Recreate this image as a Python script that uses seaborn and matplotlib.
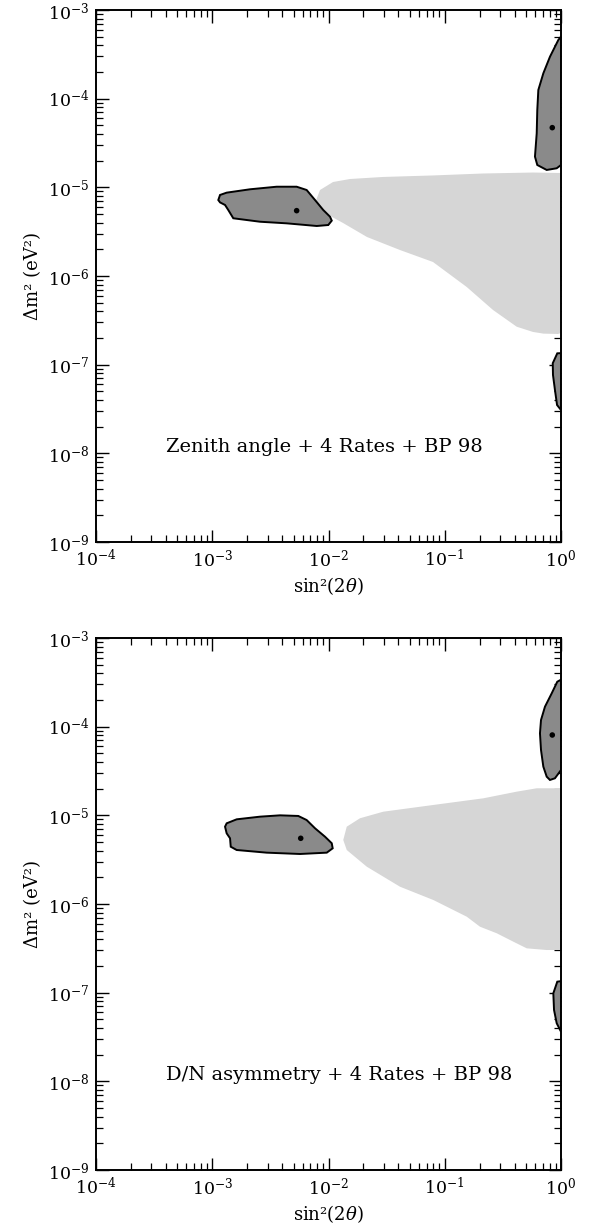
#!/usr/bin/env python
#
# Two-panel sin^2(2theta) vs dm^2 allowed-region plot

import numpy as np
import pandas as pd
import seaborn as sns
from matplotlib import pyplot as plt
from matplotlib.ticker import LogLocator

# --- data (log10 values) ---
# top panel: Zenith angle + 4 Rates + BP 98
top_sma_lx = [-2.948, -2.933, -2.876, -2.675, -2.446, -2.274, -2.188, -2.116, -2.045, -1.987,
              -1.972, -2.002, -2.101, -2.360, -2.589, -2.819, -2.862, -2.890, -2.933]
top_sma_ly = [-5.143, -5.086, -5.060, -5.022, -4.993, -4.993, -5.030, -5.143, -5.256, -5.331,
              -5.376, -5.425, -5.436, -5.406, -5.388, -5.349, -5.256, -5.199, -5.170]
top_excl_lx = [-2.116, -2.073, -1.961, -1.815, -1.531, -1.101, -0.671, -0.241, -0.026, 0.0,
               0.0, -0.026, -0.150, -0.241, -0.381, -0.585, -0.811, -1.101, -1.385, -1.669,
               -1.875, -1.970, -2.073]
top_excl_ly = [-5.177, -5.030, -4.940, -4.906, -4.883, -4.866, -4.844, -4.833, -4.838, -4.838,
               -6.643, -6.654, -6.650, -6.631, -6.572, -6.383, -6.124, -5.842, -5.707, -5.560,
               -5.402, -5.334, -5.222]
top_lma_lx = [0.0, -0.023, -0.095, -0.152, -0.195, -0.204, -0.209, -0.224, -0.204, -0.123,
              -0.037, 0.0]
top_lma_ly = [-3.30, -3.338, -3.527, -3.714, -3.902, -4.128, -4.391, -4.654, -4.748, -4.804,
              -4.785, -4.748]
top_low_lx = [0.0, -0.032, -0.071, -0.069, -0.052, -0.034, 0.0]
top_low_ly = [-6.87, -6.872, -6.984, -7.116, -7.286, -7.455, -7.511]
top_best_lx = [-2.274, -0.075]
top_best_ly = [-5.263, -4.327]

# bottom panel: D/N asymmetry + 4 Rates + BP 98
bot_sma_lx = [-2.890, -2.876, -2.790, -2.589, -2.417, -2.260, -2.188, -2.116, -2.030, -1.972,
              -1.964, -2.015, -2.245, -2.532, -2.790, -2.841, -2.847, -2.876]
bot_sma_ly = [-5.128, -5.090, -5.045, -5.015, -5.000, -5.007, -5.053, -5.146, -5.241, -5.315,
              -5.372, -5.421, -5.436, -5.421, -5.391, -5.354, -5.259, -5.203]
bot_excl_lx = [-1.873, -1.843, -1.729, -1.529, -1.098, -0.668, -0.381, -0.209, 0.0,
               0.0, -0.123, -0.295, -0.410, -0.553, -0.697, -0.811, -1.098, -1.385, -1.671,
               -1.843]
bot_excl_ly = [-5.278, -5.128, -5.033, -4.959, -4.883, -4.808, -4.733, -4.695, -4.695,
               -6.519, -6.519, -6.500, -6.425, -6.330, -6.256, -6.143, -5.955, -5.805, -5.579,
               -5.391]
bot_lma_lx = [0.0, -0.032, -0.080, -0.138, -0.172, -0.181, -0.172, -0.152, -0.123, -0.095,
              -0.052, 0.0]
bot_lma_ly = [-3.47, -3.493, -3.624, -3.775, -3.925, -4.075, -4.263, -4.451, -4.564, -4.601,
              -4.582, -4.489]
bot_low_lx = [0.0, -0.032, -0.066, -0.060, -0.037, 0.0]
bot_low_ly = [-6.87, -6.876, -7.007, -7.195, -7.345, -7.440]
bot_best_lx = [-2.239, -0.075]
bot_best_ly = [-5.259, -4.094]

titles = ['Zenith angle + 4 Rates + BP 98', 'D/N asymmetry + 4 Rates + BP 98']

panels = [
    dict(sma=(top_sma_lx, top_sma_ly), excl=(top_excl_lx, top_excl_ly),
         lma=(top_lma_lx, top_lma_ly), low=(top_low_lx, top_low_ly),
         best=(top_best_lx, top_best_ly)),
    dict(sma=(bot_sma_lx, bot_sma_ly), excl=(bot_excl_lx, bot_excl_ly),
         lma=(bot_lma_lx, bot_lma_ly), low=(bot_low_lx, bot_low_ly),
         best=(bot_best_lx, bot_best_ly)),
]

# --- plot setup ---
sns.set_style('ticks')
plt.rcParams['font.family'] = ['DejaVu Serif']
plt.rcParams['mathtext.fontset'] = 'dejavuserif'
plt.rcParams['text.color'] = 'black'
plt.rcParams['axes.labelcolor'] = 'black'
plt.rcParams['xtick.color'] = 'black'
plt.rcParams['ytick.color'] = 'black'

fig = plt.figure(figsize=(5.92, 12.26), dpi=100)
ax_top = fig.add_axes([96 / 592, (1226 - 542) / 1226, 465 / 592, 532 / 1226])
ax_bot = fig.add_axes([96 / 592, (1226 - 1170) / 1226, 465 / 592, 532 / 1226])

dark = '#8a8a8a'
light = '#d6d6d6'

for ax, p, title in zip([ax_top, ax_bot], panels, titles):
    ax.set_xscale('log')
    ax.set_yscale('log')

    # light region first, dark contours on top
    lx, ly = p['excl']
    ax.fill(np.power(10.0, lx), np.power(10.0, ly), facecolor=light, edgecolor='none', zorder=1)
    for key in ['sma', 'lma', 'low']:
        lx, ly = p[key]
        ax.fill(np.power(10.0, lx), np.power(10.0, ly), facecolor=dark, edgecolor='black',
                linewidth=1.4, zorder=2)

    bx, by = p['best']
    best = pd.DataFrame({'x': np.power(10.0, bx), 'y': np.power(10.0, by)})
    sns.scatterplot(data=best, x='x', y='y', ax=ax, color='black', s=16,
                    edgecolor='none', zorder=3)

    ax.set(xlim=(1e-4, 1), ylim=(1e-9, 1e-3))
    ax.xaxis.set_major_locator(LogLocator(base=10, numticks=10))
    ax.yaxis.set_major_locator(LogLocator(base=10, numticks=10))
    ax.xaxis.set_minor_locator(LogLocator(base=10, subs=np.arange(2, 10), numticks=20))
    ax.yaxis.set_minor_locator(LogLocator(base=10, subs=np.arange(2, 10), numticks=20))
    ax.tick_params(which='both', direction='in', top=True, right=True, color='black')
    ax.tick_params(which='major', length=9, width=1.0, labelsize=12.5, pad=5)
    ax.tick_params(which='minor', length=5, width=0.9)
    for sp in ax.spines.values():
        sp.set_linewidth(1.4)
        sp.set_color('black')
        sp.set_zorder(5)

    ax.set_xlabel(r'sin²(2$\theta$)', fontsize=13, labelpad=3)
    ax.set_ylabel('Δm² (eV²)', fontsize=13, labelpad=4)
    ax.text(0.15, 0.178, title, transform=ax.transAxes, fontsize=14,
            ha='left', va='center')

#Save plot
fig.savefig('out.png', dpi=100)
